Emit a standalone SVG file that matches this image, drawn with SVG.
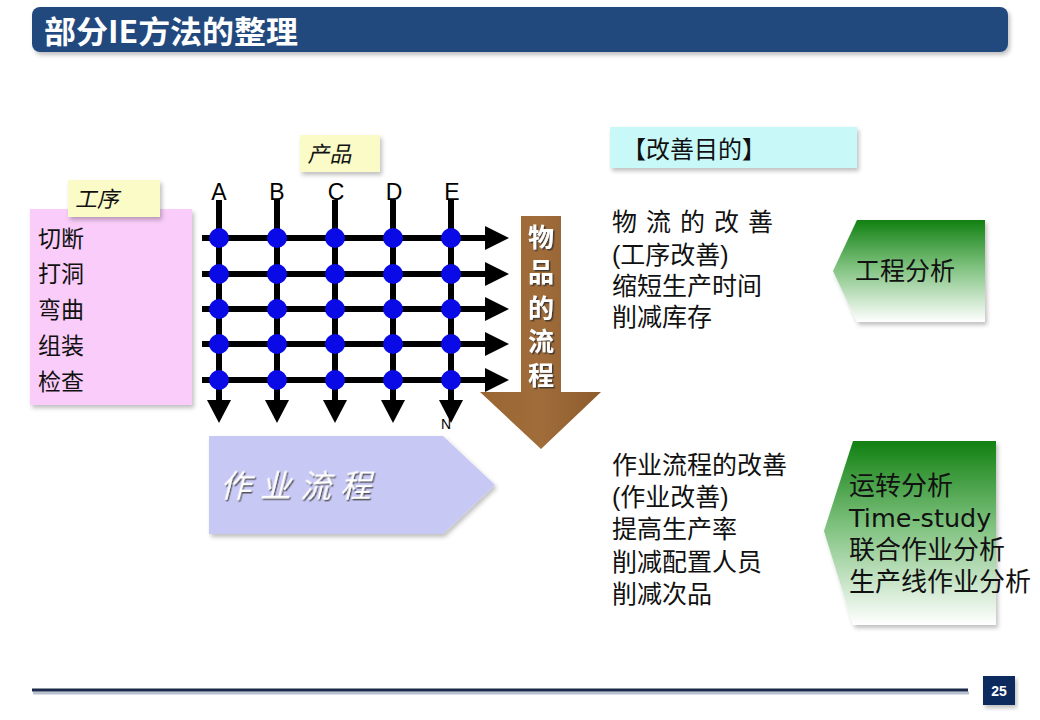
<svg xmlns="http://www.w3.org/2000/svg" width="1040" height="720" viewBox="0 0 1040 720">
<defs>
<style>
.cn{font-family:"Noto Sans CJK SC","Noto Sans",sans-serif;fill:#111;}
.cl{font-family:"Liberation Sans","Noto Sans CJK SC",sans-serif;fill:#111;}
.lat{font-family:"Liberation Sans",Arial,sans-serif;}
.grid{stroke:#000;stroke-width:6;fill:none;}
.dot{fill:#0a0ae6;}
.ah{fill:#000;}
</style>
<linearGradient id="green" x1="0" y1="0" x2="0" y2="1">
<stop offset="0" stop-color="#118011"/>
<stop offset="0.45" stop-color="#7cc07c"/>
<stop offset="1" stop-color="#ffffff"/>
</linearGradient>
<linearGradient id="brown" x1="0" y1="0" x2="1" y2="0">
<stop offset="0" stop-color="#9a6634"/>
<stop offset="0.5" stop-color="#a06c3a"/>
<stop offset="1" stop-color="#8d5c2e"/>
</linearGradient>
<filter id="sh" x="-5%" y="-5%" width="115%" height="125%">
<feDropShadow dx="2" dy="3" stdDeviation="2" flood-color="#000" flood-opacity="0.25"/>
</filter>
<filter id="tsh" x="-10%" y="-10%" width="130%" height="130%">
<feDropShadow dx="1.5" dy="1.5" stdDeviation="0.5" flood-color="#333" flood-opacity="0.8"/>
</filter>
</defs>

<g id="title">
<rect x="32" y="7" width="976" height="45" rx="8" fill="#204a7e" filter="url(#sh)"/>
<text x="44" y="43" font-size="31" font-weight="bold" class="cn" style="fill:#fff" textLength="254" lengthAdjust="spacingAndGlyphs">部分IE方法的整理</text>
</g>

<g id="process-box">
<rect x="30" y="209" width="162" height="196" fill="#f9ccf9" filter="url(#sh)"/>
<text class="cl" font-size="23"><tspan x="38" y="247">切断</tspan><tspan x="38" y="282">打洞</tspan><tspan x="38" y="318">弯曲</tspan><tspan x="38" y="354">组装</tspan><tspan x="38" y="390">检查</tspan></text>
</g>
<g id="process-label">
<rect x="68" y="180" width="92" height="37" fill="#fbfbc8" filter="url(#sh)"/>
<text class="cn" x="76" y="207" font-size="22" transform="skewX(-12) translate(43,0)">工序</text>
</g>
<g id="product-label">
<rect x="300" y="135" width="80" height="37" fill="#fbfbc8" filter="url(#sh)"/>
<text class="cn" x="308" y="162" font-size="22" transform="skewX(-12) translate(34,0)">产品</text>
</g>

<g id="connectors">
<g class="grid">
<line x1="219" y1="200" x2="219" y2="402"/>
<line x1="277" y1="200" x2="277" y2="402"/>
<line x1="335" y1="200" x2="335" y2="402"/>
<line x1="393" y1="200" x2="393" y2="402"/>
<line x1="451" y1="200" x2="451" y2="402"/>
<line x1="202" y1="238" x2="487" y2="238"/>
<line x1="202" y1="274" x2="487" y2="274"/>
<line x1="202" y1="309" x2="487" y2="309"/>
<line x1="202" y1="344" x2="487" y2="344"/>
<line x1="202" y1="380" x2="487" y2="380"/>
</g>
<g class="ah">
<polygon points="207,400 231,400 219,423"/>
<polygon points="265,400 289,400 277,423"/>
<polygon points="323,400 347,400 335,423"/>
<polygon points="381,400 405,400 393,423"/>
<polygon points="439,400 463,400 451,423"/>
<polygon points="485,226 485,250 509,238"/>
<polygon points="485,262 485,286 509,274"/>
<polygon points="485,297 485,321 509,309"/>
<polygon points="485,332 485,356 509,344"/>
<polygon points="485,368 485,392 509,380"/>
</g>
</g>

<g id="grid-dots" class="dot">
<circle cx="219" cy="238" r="10"/><circle cx="277" cy="238" r="10"/><circle cx="335" cy="238" r="10"/><circle cx="393" cy="238" r="10"/><circle cx="451" cy="238" r="10"/>
<circle cx="219" cy="274" r="10"/><circle cx="277" cy="274" r="10"/><circle cx="335" cy="274" r="10"/><circle cx="393" cy="274" r="10"/><circle cx="451" cy="274" r="10"/>
<circle cx="219" cy="309" r="10"/><circle cx="277" cy="309" r="10"/><circle cx="335" cy="309" r="10"/><circle cx="393" cy="309" r="10"/><circle cx="451" cy="309" r="10"/>
<circle cx="219" cy="344" r="10"/><circle cx="277" cy="344" r="10"/><circle cx="335" cy="344" r="10"/><circle cx="393" cy="344" r="10"/><circle cx="451" cy="344" r="10"/>
<circle cx="219" cy="380" r="10"/><circle cx="277" cy="380" r="10"/><circle cx="335" cy="380" r="10"/><circle cx="393" cy="380" r="10"/><circle cx="451" cy="380" r="10"/>
</g>

<g id="column-labels" class="lat" font-size="23" text-anchor="middle" fill="#000">
<text x="219" y="200">A</text>
<text x="277" y="200">B</text>
<text x="336" y="200">C</text>
<text x="394" y="200">D</text>
<text x="452" y="200">E</text>
<text x="446" y="429" font-size="14">N</text>
</g>

<g id="material-flow">
<polygon points="521,216 561,216 561,392 601,392 541,449 480,392 521,392" fill="url(#brown)"/>
<text class="cl" font-size="26" font-weight="bold" text-anchor="middle" filter="url(#tsh)" style="fill:#fff"><tspan x="541" y="247">物</tspan><tspan x="541" y="282">品</tspan><tspan x="541" y="318">的</tspan><tspan x="541" y="351">流</tspan><tspan x="541" y="385">程</tspan></text>
</g>

<g id="work-flow">
<polygon points="209,436 443,436 495,485 443,534 209,534" fill="#c8c8f5" filter="url(#sh)"/>
<text class="cn" x="220" y="497" font-size="31" style="fill:#fff" filter="url(#tsh)" transform="skewX(-14) translate(124,0)" letter-spacing="9">作业流程</text>
</g>

<g id="purpose-header">
<rect x="610" y="127" width="247" height="41" fill="#c8f8f8" filter="url(#sh)"/>
<text class="cn" x="622" y="158" font-size="24">【改善目的】</text>
</g>

<g id="purpose1">
<text class="cl" font-size="25"><tspan x="612" y="231" letter-spacing="9">物流的改善</tspan><tspan x="612" y="264" letter-spacing="0">(工序改善)</tspan><tspan x="612" y="295">缩短生产时间</tspan><tspan x="612" y="326">削减库存</tspan></text>
</g>

<g id="method1">
<polygon points="857,220 985,220 985,322 857,322 833,271" fill="url(#green)" filter="url(#sh)"/>
<text class="cn" x="855" y="280" font-size="25">工程分析</text>
</g>

<g id="purpose2">
<text class="cl" font-size="25"><tspan x="612" y="474">作业流程的改善</tspan><tspan x="612" y="506">(作业改善)</tspan><tspan x="612" y="538">提高生产率</tspan><tspan x="612" y="571">削减配置人员</tspan><tspan x="612" y="603">削减次品</tspan></text>
</g>

<g id="method2">
<polygon points="853,441 996,441 996,625 853,625 824,531" fill="url(#green)" filter="url(#sh)"/>
<text class="cl" font-size="26"><tspan x="849" y="495">运转分析</tspan><tspan x="849" y="527" style="font-family:'DejaVu Sans',sans-serif" font-size="25.5">Time-study</tspan><tspan x="849" y="559">联合作业分析</tspan><tspan x="849" y="591">生产线作业分析</tspan></text>
</g>

<g id="footer">
<line x1="33" y1="693" x2="969" y2="693" stroke="#b8c0d0" stroke-width="3"/>
<line x1="32" y1="690" x2="968" y2="690" stroke="#1b2a4a" stroke-width="3"/>
<rect x="983" y="676" width="32" height="29" fill="#0f2a5e" filter="url(#sh)"/>
<text x="999" y="696" font-size="14" font-weight="bold" text-anchor="middle" fill="#fff" class="lat">25</text>
</g>
</svg>
